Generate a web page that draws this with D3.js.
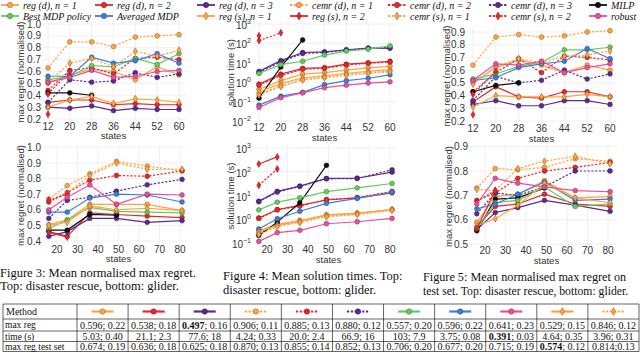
<!DOCTYPE html>
<html>
<head>
<script src="https://d3js.org/d3.v7.min.js"></script>
<style>
  body { margin: 0; background: #fff; }
  svg text { font-family: "Liberation Sans", Arial, sans-serif; fill: #333; }
  .serif { font-family: "Liberation Serif", "Times New Roman", serif !important; fill: #111 !important; }
</style>
</head>
<body>
<svg id="fig" width="640" height="352"></svg>
<script>
// ---- data ----
var statesRescue = [12, 20, 28, 36, 44, 52, 60];
var statesGlider = [16, 25, 36, 49, 64, 81];
var ticksRescueX = [12, 20, 28, 36, 44, 52, 60];
var ticksGliderX = [20, 30, 40, 50, 60, 70, 80];
var ticksRegretTL = [0.2, 0.3, 0.4, 0.5, 0.6, 0.7, 0.8, 0.9, 1.0];
var ticksRegretTR = [0.2, 0.3, 0.4, 0.5, 0.6, 0.7, 0.8, 0.9];
var ticksRegretBL = [0.4, 0.5, 0.6, 0.7, 0.8, 0.9, 1.0];
var ticksRegretBR = [0.5, 0.6, 0.7, 0.8, 0.9];
var ticksTimeTop = [-2, -1, 0, 1, 2, 3];
var ticksTimeBottom = [-1, 0, 1, 2, 3];

var seriesOrder = ["regd1", "regd2", "regd3", "cemrd1", "cemrd2", "cemrd3", "milp",
                   "best", "avg", "regs1", "regs2", "cemrs1", "cemrs2", "robust"];
var legendLabels = ["reg (d), n = 1", "reg (d), n = 2", "reg (d), n = 3", "cemr (d), n = 1",
                    "cemr (d), n = 2", "cemr (d), n = 3", "MILP", "Best MDP policy", "Averaged MDP",
                    "reg (s), n = 1", "reg (s), n = 2", "cemr (s), n = 1", "cemr (s), n = 2", "robust"];

var rescueRegret = {
  regd1: [0.50, 0.57, 0.62, 0.60, 0.53, 0.64, 0.57],
  regd2: [0.34, 0.36, 0.36, 0.32, 0.33, 0.32, 0.32],
  regd3: [0.30, 0.29, 0.31, 0.27, 0.29, 0.28, 0.28],
  cemrd1: [0.63, 0.85, 0.85, 0.81, 0.89, 0.90, 0.91],
  cemrd2: [0.44, 0.61, 0.63, 0.58, 0.71, 0.72, 0.70],
  cemrd3: [0.34, 0.53, 0.51, 0.52, 0.59, 0.55, 0.58],
  milp: [0.42, 0.42, 0.40],
  best: [0.53, 0.56, 0.65, 0.64, 0.71, 0.66, 0.75],
  avg: [0.56, 0.56, 0.72, 0.67, 0.69, 0.75, 0.67],
  regs1: [0.30, 0.36, 0.39, 0.33, 0.37, 0.36, 0.34],
  regs2: [0.24],
  cemrs1: [0.51, 0.67, 0.71, 0.64, 0.77, 0.73, 0.78],
  cemrs2: [0.41, 0.60],
  robust: [0.51, 0.55, 0.61, 0.55, 0.56, 0.60, 0.61]
};
var rescueTime = {
  regd1: [0.43, 1.2, 2.6, 3.1, 4.2, 5.5, 6.6],
  regd2: [0.8, 2.6, 5.2, 5.6, 8.5, 10, 12],
  regd3: [3.6, 13, 34, 37, 47, 58, 56],
  cemrd1: [0.25, 0.65, 1.4, 1.8, 2.5, 3.1, 3.8],
  cemrd2: [0.7, 2.2, 4.6, 5.2, 7.5, 9.5, 11],
  cemrd3: [3.2, 11, 30, 34, 44, 55, 62],
  milp: [0.15, 6, 150],
  best: [2.8, 8, 12, 25, 40, 50, 75],
  avg: [0.066, 0.19, 0.3, 0.75, 1.2, 1.6, 2.4],
  regs1: [0.32, 0.85, 1.7, 2.1, 2.9, 3.6, 4.4],
  regs2: [250],
  cemrs1: [0.22, 0.6, 1.3, 1.7, 2.3, 2.9, 3.4],
  cemrs2: [140, 350],
  robust: [0.05, 0.16, 0.28, 0.52, 0.7, 0.9, 1.05]
};
var rescueTest = {
  regd1: [0.50, 0.62, 0.68, 0.64, 0.58, 0.64, 0.60],
  regd2: [0.35, 0.47, 0.39, 0.38, 0.43, 0.43, 0.39],
  regd3: [0.33, 0.36, 0.32, 0.32, 0.36, 0.36, 0.33],
  cemrd1: [0.64, 0.86, 0.88, 0.86, 0.87, 0.90, 0.91],
  cemrd2: [0.43, 0.58, 0.69, 0.58, 0.71, 0.70, 0.68],
  cemrd3: [0.36, 0.55, 0.50, 0.52, 0.60, 0.53, 0.57],
  milp: [0.43, 0.48, 0.50],
  best: [0.53, 0.57, 0.63, 0.66, 0.76, 0.76, 0.78],
  avg: [0.52, 0.54, 0.62, 0.65, 0.67, 0.77, 0.69],
  regs1: [0.31, 0.40, 0.39, 0.39, 0.39, 0.41, 0.39],
  regs2: [0.25],
  cemrs1: [0.49, 0.63, 0.69, 0.66, 0.71, 0.72, 0.75],
  cemrs2: [0.41, 0.59],
  robust: [0.52, 0.65, 0.64, 0.67, 0.58, 0.62, 0.65]
};
var gliderRegret = {
  regd1: [0.505, 0.535, 0.635, 0.635, 0.635, 0.595],
  regd2: [0.46, 0.43, 0.58, 0.57, 0.56, 0.55],
  regd3: [0.43, 0.46, 0.545, 0.545, 0.52, 0.53],
  cemrd1: [0.67, 0.755, 0.83, 0.91, 0.88, 0.85],
  cemrd2: [0.65, 0.71, 0.79, 0.82, 0.815, 0.85],
  cemrd3: [0.545, 0.66, 0.68, 0.72, 0.76, 0.795],
  milp: [0.47, 0.47, 0.57, 0.565],
  best: [0.48, 0.535, 0.615, 0.59, 0.585, 0.58],
  avg: [0.585, 0.585, 0.675, 0.70, 0.695, 0.65],
  regs1: [0.50, 0.52, 0.625, 0.60, 0.61, 0.595],
  regs2: [0.455, 0.425],
  cemrs1: [0.66, 0.71, 0.82, 0.90, 0.86, 0.86],
  cemrs2: [0.66, 0.70],
  robust: [0.60, 0.68, 0.76, 0.635, 0.70, 0.695]
};
var gliderTime = {
  regd1: [0.33, 0.62, 0.9, 1.55, 1.85, 2.6],
  regd2: [1.15, 2.6, 3.9, 6.5, 8, 13],
  regd3: [5.8, 15, 25, 52, 53, 95],
  cemrd1: [0.26, 0.55, 0.8, 1.4, 1.7, 2.5],
  cemrd2: [1.1, 2.5, 3.6, 6.8, 8.2, 15],
  cemrd3: [5.5, 14, 24, 50, 52, 120],
  milp: [0.21, 0.77, 5, 185],
  best: [2.5, 5.3, 8, 14.5, 21, 32],
  avg: [0.4, 1.07, 2.2, 4.7, 7.6, 14],
  regs1: [0.3, 0.58, 0.85, 1.5, 1.8, 2.6],
  regs2: [210, 415],
  cemrs1: [0.23, 0.5, 0.75, 1.3, 1.6, 2.4],
  cemrs2: [27, 130],
  robust: [0.12, 0.28, 0.35, 0.66, 0.8, 1.1]
};
var gliderTest = {
  regd1: [0.59, 0.695, 0.705, 0.76, 0.69, 0.695],
  regd2: [0.57, 0.655, 0.665, 0.705, 0.665, 0.655],
  regd3: [0.56, 0.63, 0.65, 0.68, 0.66, 0.635],
  cemrd1: [0.73, 0.81, 0.805, 0.815, 0.85, 0.84],
  cemrd2: [0.68, 0.71, 0.77, 0.80, 0.815, 0.835],
  cemrd3: [0.625, 0.71, 0.70, 0.735, 0.80, 0.80],
  milp: [0.555, 0.685, 0.69, 0.73],
  best: [0.565, 0.67, 0.68, 0.735, 0.655, 0.665],
  avg: [0.645, 0.665, 0.705, 0.755, 0.68, 0.685],
  regs1: [0.575, 0.605, 0.66, 0.75, 0.69, 0.67],
  regs2: [0.565, 0.72],
  cemrs1: [0.725, 0.72, 0.81, 0.84, 0.86, 0.83],
  cemrs2: [0.675, 0.72],
  robust: [0.665, 0.77, 0.75, 0.735, 0.72, 0.715]
};

var tableCols = ["regd1", "regd2", "regd3", "cemrd1", "cemrd2", "cemrd3", "best", "avg", "robust", "regs1", "cemrs1"];
var tableRows = ["max reg", "time (s)", "max reg test set"];
var maxRegCells = ["0.596; 0.22", "0.538; 0.18", "*0.497*; 0.16", "0.906; 0.11", "0.885; 0.13", "0.880; 0.12",
                   "0.557; 0.20", "0.596; 0.22", "0.641; 0.23", "0.529; 0.15", "0.846; 0.12"];
var timeCells = ["5.03; 0.40", "21.1; 2.3", "77.6; 18", "4.24; 0.33", "20.0; 2.4", "66.9; 16",
                 "103; 7.9", "3.75; 0.08", "*0.391*; 0.03", "4.64; 0.35", "3.96; 0.31"];
var testCells = ["0.674; 0.19", "0.636; 0.18", "0.625; 0.18", "0.870; 0.13", "0.855; 0.14", "0.852; 0.13",
                 "0.706; 0.20", "0.677; 0.20", "0.715; 0.19", "*0.574*; 0.12", "0.814;0.13"];

// ---- styles ----
var ORANGE = "#ffa343", RED = "#e8262c", PURPLE = "#5a2b8e", GREEN = "#63cb5f",
    BLUE = "#3d7fd8", PINK = "#e6509c", BLACK = "#111";
var styles = {
  regd1: {c: ORANGE, dot: false, m: "o"}, regd2: {c: RED, dot: false, m: "o"},
  regd3: {c: PURPLE, dot: false, m: "o"}, cemrd1: {c: ORANGE, dot: true, m: "o"},
  cemrd2: {c: RED, dot: true, m: "o"}, cemrd3: {c: PURPLE, dot: true, m: "o"},
  milp: {c: BLACK, dot: false, m: "o"}, best: {c: GREEN, dot: false, m: "o"},
  avg: {c: BLUE, dot: false, m: "o"}, regs1: {c: ORANGE, dot: false, m: "d"},
  regs2: {c: RED, dot: false, m: "d"}, cemrs1: {c: ORANGE, dot: true, m: "d"},
  cemrs2: {c: RED, dot: true, m: "d"}, robust: {c: PINK, dot: false, m: "o"}
};

var fig = d3.select("#fig");

function marker(g, key, x, y, r) {
  var s = styles[key];
  var edge = key == "milp" ? "#000" : d3.color(s.c).darker(1.6);
  if (s.m == "o") {
    g.append("circle").attr("cx", x).attr("cy", y).attr("r", r)
      .attr("fill", s.c).attr("stroke", edge).attr("stroke-width", 0.5);
  } else {
    var w = r * 0.85, h = r * 1.45;
    g.append("path").attr("d", "M" + x + "," + (y - h) + "L" + (x + w) + "," + y + "L" + x + "," + (y + h) + "L" + (x - w) + "," + y + "Z")
      .attr("fill", s.c).attr("stroke", edge).attr("stroke-width", 0.5);
  }
}

function sample(g, key, x, y, len, lw) {
  var s = styles[key];
  g.append("line").attr("x1", x).attr("x2", x + len).attr("y1", y).attr("y2", y)
    .attr("stroke", s.c).attr("stroke-width", lw)
    .attr("stroke-dasharray", s.dot ? "2.2,1.6" : null);
  marker(g, key, x + len / 2, y, 2.7);
}

// ---- panels ----
var panels = [
  {data: rescueRegret, states: statesRescue, log: false, yDom: [0.2, 1.0], yRange: [119, 24], xDom: [12, 60], xRange: [48, 179],
   box: [42, 186, 21, 123], xTicks: ticksRescueX, yTicks: ticksRegretTL, ylab: "max regret (normalised)", ylabX: 21, tickY: 126, labY: 136},
  {data: rescueTime, states: statesRescue, log: true, yDom: [1e-2, 1e3], yRange: [121, 24], xDom: [12, 60], xRange: [259, 390],
   box: [253, 397, 21, 124], xTicks: ticksRescueX, yTicks: ticksTimeTop, ylab: "solution time (s)", ylabX: 231, tickY: 127, labY: 137.5},
  {data: rescueTest, states: statesRescue, log: false, yDom: [0.2, 0.9], yRange: [121, 32], xDom: [12, 60], xRange: [473, 610],
   box: [466, 617, 27, 125], xTicks: ticksRescueX, yTicks: ticksRegretTR, ylab: "max regret (normalised)", ylabX: 447, tickY: 128, labY: 138.5},
  {data: gliderRegret, states: statesGlider, log: false, yDom: [0.4, 1.0], yRange: [241, 147.4], xDom: [20, 80], xRange: [57, 180],
   box: [42, 186, 145, 246], xTicks: ticksGliderX, yTicks: ticksRegretBL, ylab: "max regret (normalised)", ylabX: 21, tickY: 249, labY: 258.5},
  {data: gliderTime, states: statesGlider, log: true, yDom: [1e-1, 1e3], yRange: [243.3, 147.8], xDom: [20, 80], xRange: [267, 390],
   box: [253, 397, 145, 247], xTicks: ticksGliderX, yTicks: ticksTimeBottom, ylab: "solution time (s)", ylabX: 231, tickY: 249.5, labY: 259.5},
  {data: gliderTest, states: statesGlider, log: false, yDom: [0.5, 0.8], yRange: [244.3, 171], xDom: [20, 80], xRange: [485, 608],
   box: [469, 617, 145, 248], xTicks: ticksGliderX, yTicks: ticksRegretBR, ylab: "max regret (normalised)", ylabX: 449, tickY: 250.5, labY: 260.5}
];

panels.forEach(function (p) {
  var g = fig.append("g");
  var x = d3.scaleLinear().domain(p.xDom).range(p.xRange);
  var y = p.log ? d3.scaleLog().domain(p.yDom).range(p.yRange)
                : d3.scaleLinear().domain(p.yDom).range(p.yRange);
  var b = p.box;
  var yt = p.log ? p.yTicks.map(function (e) { return Math.pow(10, e); }) : p.yTicks;

  // grid
  g.selectAll(".gx").data(p.xTicks).enter().append("line")
    .attr("x1", function (d) { return x(d); }).attr("x2", function (d) { return x(d); })
    .attr("y1", b[2]).attr("y2", b[3]).attr("stroke", "#ececec").attr("stroke-width", 0.8);
  g.selectAll(".gy").data(yt).enter().append("line")
    .attr("x1", b[0]).attr("x2", b[1])
    .attr("y1", function (d) { return y(d); }).attr("y2", function (d) { return y(d); })
    .attr("stroke", "#ececec").attr("stroke-width", 0.8);

  // tick labels
  g.selectAll(".tx").data(p.xTicks).enter().append("text")
    .attr("x", function (d) { return x(d); }).attr("y", p.tickY).attr("dy", "0.35em")
    .attr("text-anchor", "middle").attr("font-size", 10).text(function (d) { return d; });
  if (p.log) {
    p.yTicks.forEach(function (e) {
      var t = g.append("text").attr("x", b[0] - 2).attr("y", y(Math.pow(10, e)) + 5)
        .attr("text-anchor", "end").attr("font-size", 10);
      t.append("tspan").text("10");
      t.append("tspan").attr("dy", -5).attr("font-size", 7).text(e < 0 ? "\u2212" + (-e) : e);
    });
  } else {
    g.selectAll(".ty").data(p.yTicks).enter().append("text")
      .attr("x", b[0] - 1).attr("y", function (d) { return y(d); }).attr("dy", "0.35em")
      .attr("text-anchor", "end").attr("font-size", 10).text(function (d) { return d.toFixed(1); });
  }
  g.append("text").attr("x", (x.range()[0] + x.range()[1]) / 2).attr("y", p.labY).attr("dy", "0.35em")
    .attr("text-anchor", "middle").attr("font-size", 9.5).text("states");
  var cy = (b[2] + b[3]) / 2;
  g.append("text").attr("transform", "translate(" + p.ylabX + "," + cy + ") rotate(-90)")
    .attr("text-anchor", "middle").attr("dy", "0.35em").attr("font-size", 9.5).text(p.ylab);

  // series
  var line = d3.line().x(function (d) { return x(d.s); }).y(function (d) { return y(d.v); });
  seriesOrder.forEach(function (key) {
    var vals = p.data[key];
    var pts = vals.map(function (v, i) { return {s: p.states[i], v: v}; });
    var s = styles[key];
    g.append("path").attr("d", line(pts)).attr("fill", "none")
      .attr("stroke", s.c).attr("stroke-width", 1.2)
      .attr("stroke-dasharray", s.dot ? "2.2,1.6" : null);
    pts.forEach(function (d) { marker(g, key, x(d.s), y(d.v), 2.4); });
  });
});

// ---- legend ----
var legCols = [0, 94, 196, 289, 387, 488, 588];
var lg = fig.append("g");
seriesOrder.forEach(function (key, i) {
  var row = i < 7 ? 0 : 1;
  var col = i % 7;
  var ly = row == 0 ? 5 : 16;
  sample(lg, key, legCols[col] + 1, ly, 18, 1.8);
  lg.append("text").attr("class", "serif").attr("x", legCols[col] + 23).attr("y", ly).attr("dy", "0.35em")
    .attr("font-size", 10).attr("font-style", "italic").text(legendLabels[i]);
});

// ---- captions ----
var captions = [
  {x: 0, y: [273, 286], fs: [12.5, 12.5], t: ["Figure 3: Mean normalised max regret.", "Top: disaster rescue, bottom: glider."]},
  {x: 223, y: [276, 290], fs: [12.5, 12.5], t: ["Figure 4: Mean solution times. Top:", "disaster rescue, bottom: glider."]},
  {x: 423, y: [277, 291], fs: [12.2, 11.7], t: ["Figure 5: Mean normalised max regret on", "test set. Top: disaster rescue, bottom: glider."]}
];
captions.forEach(function (c) {
  c.t.forEach(function (line, k) {
    fig.append("text").attr("class", "serif").attr("x", c.x).attr("y", c.y[k]).attr("dy", "0.35em")
      .attr("font-size", c.fs[k]).text(line);
  });
});

// ---- table ----
var tg = fig.append("g");
var tx0 = 3, firstW = 74, colW = (639 - tx0 - firstW) / tableCols.length;
var rowY = [304, 319, 331, 341.5, 351.5];
var tbl = [maxRegCells, timeCells, testCells];
rowY.forEach(function (yy) {
  tg.append("line").attr("x1", tx0).attr("x2", 639).attr("y1", yy).attr("y2", yy).attr("stroke", "#222").attr("stroke-width", 0.7);
});
var colX = [tx0, tx0 + firstW];
tableCols.forEach(function (k, i) { colX.push(tx0 + firstW + colW * (i + 1)); });
colX.forEach(function (xx) {
  tg.append("line").attr("x1", xx).attr("x2", xx).attr("y1", rowY[0]).attr("y2", rowY[4]).attr("stroke", "#222").attr("stroke-width", 0.7);
});
tg.append("text").attr("class", "serif").attr("x", tx0 + 3).attr("y", (rowY[0] + rowY[1]) / 2).attr("dy", "0.35em")
  .attr("font-size", 10).text("Method");
tableCols.forEach(function (key, i) {
  var cx = tx0 + firstW + colW * (i + 0.5);
  sample(tg, key, cx - 11, (rowY[0] + rowY[1]) / 2, 22, 2.2);
});
tableRows.forEach(function (r, j) {
  var yy = (rowY[j + 1] + rowY[j + 2]) / 2;
  tg.append("text").attr("class", "serif").attr("x", tx0 + 2).attr("y", yy).attr("dy", "0.35em")
    .attr("font-size", 9.5).text(r);
  tbl[j].forEach(function (cell, i) {
    var cx = tx0 + firstW + colW * (i + 0.5);
    var t = tg.append("text").attr("class", "serif").attr("x", cx).attr("y", yy).attr("dy", "0.35em")
      .attr("text-anchor", "middle").attr("font-size", 10);
    var parts = cell.split("*");
    parts.forEach(function (part, pi) {
      if (part === "") return;
      t.append("tspan").attr("font-weight", pi % 2 == 1 ? "bold" : null).text(part);
    });
  });
});
</script>
</body>
</html>
